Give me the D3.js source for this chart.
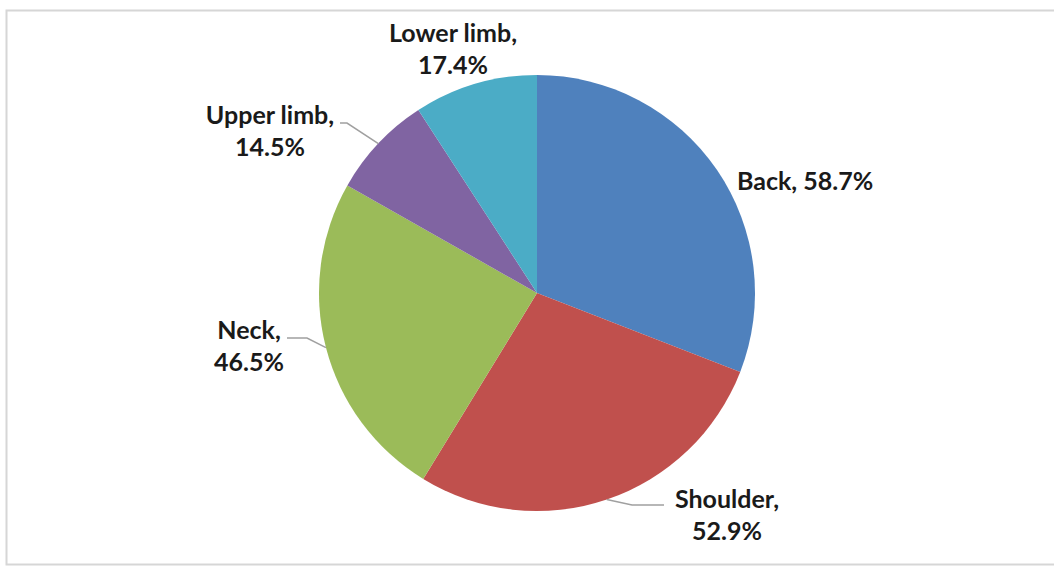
<!DOCTYPE html>
<html>
<head>
<meta charset="utf-8">
<script src="https://cdn.jsdelivr.net/npm/d3@7"></script>
<style>
  html, body { margin: 0; padding: 0; background: #fff; }
  svg { display: block; }
  .lbl { font-family: Lato, "Open Sans", sans-serif; font-weight: bold; font-size: 25px; fill: #1a1a1a; }
</style>
</head>
<body>
<svg id="chart" width="1054" height="567"></svg>
<script>
// data (percent of respondents)
const categories = ["Back", "Shoulder", "Neck", "Upper limb", "Lower limb"];
const values = [58.7, 52.9, 46.5, 14.5, 17.4];
const colors = ["#4F81BD", "#C0504D", "#9BBB59", "#8064A2", "#4BACC6"];

// label layout, relative to pie centre (Excel places these by hand)
// leader: [elbowX, endX, y]
const labelLayout = {
  "Back":       { dx: 200, dy: -103, anchor: "start", lines: 1 },
  "Shoulder":   { dx: 190, dy: 215, anchor: "middle", lines: 2, leader: [95, 127, 212] },
  "Neck":       { dx: -288, dy: 46, anchor: "middle", lines: 2, leader: [-230, -250, 45] },
  "Upper limb": { dx: -267, dy: -169, anchor: "middle", lines: 2, leader: [-190, -197, -170] },
  "Lower limb": { dx: -84, dy: -251, anchor: "middle", lines: 2 }
};

const width = 1054, height = 567;
const cx = 537, cy = 293, radius = 218;

const svg = d3.select("#chart");

// outer chart-area frame
svg.append("rect")
    .attr("x", 6.5).attr("y", 10.5)
    .attr("width", 1060).attr("height", 554)
    .attr("fill", "none")
    .attr("stroke", "#d6d6d6")
    .attr("stroke-width", 2);

const data = categories.map((c, i) => ({ name: c, value: values[i], color: colors[i] }));

const pie = d3.pie().sort(null).value(d => d.value);
const arc = d3.arc().innerRadius(0).outerRadius(radius);

const g = svg.append("g").attr("transform", `translate(${cx},${cy})`);

const arcs = pie(data);

g.selectAll(".slice")
    .data(arcs)
    .enter()
    .append("path")
    .attr("class", "slice")
    .attr("d", arc)
    .attr("fill", d => d.data.color);

// leader lines
arcs.forEach(d => {
  const lay = labelLayout[d.data.name];
  if (!lay.leader) return;
  const mid = (d.startAngle + d.endAngle) / 2;
  const px = radius * Math.sin(mid), py = -radius * Math.cos(mid);
  const [ex, lx, ly] = lay.leader;
  g.append("polyline")
      .attr("points", `${px},${py} ${ex},${ly} ${lx},${ly}`)
      .attr("fill", "none")
      .attr("stroke", "#a0a0a0")
      .attr("stroke-width", 1.5);
});

// labels
arcs.forEach(d => {
  const lay = labelLayout[d.data.name];
  const pct = d3.format(".1f")(d.data.value) + "%";
  const t = g.append("text")
      .attr("class", "lbl")
      .attr("text-anchor", lay.anchor)
      .attr("x", lay.dx)
      .attr("y", lay.dy);
  if (lay.lines === 1) {
    t.text(`${d.data.name}, ${pct}`);
  } else {
    t.append("tspan").attr("x", lay.dx).attr("y", lay.dy).text(d.data.name + ",");
    t.append("tspan").attr("x", lay.dx).attr("y", lay.dy + 32).text(pct);
  }
});
</script>
</body>
</html>
